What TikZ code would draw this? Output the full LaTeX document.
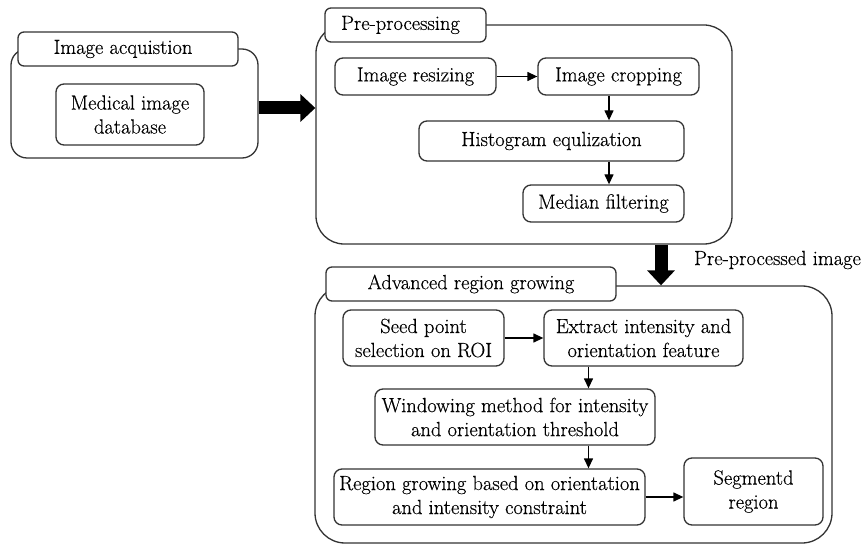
\documentclass[tikz,border=0pt]{standalone}
\usepackage{fontspec}
\newfontfamily\diafont{Latin Modern Roman}[FakeBold=0.4]
\usetikzlibrary{arrows.meta,calc}
\begin{document}
\begin{tikzpicture}[x=1pt,y=-1pt,
  every node/.style={font=\diafont\fontsize{20.5}{24}\selectfont, align=center, inner sep=0pt},
  lc/.style={draw=black!80, line width=1.3pt},
  outerbox/.style={lc, rounded corners=28pt},
  tabbox/.style={lc, fill=white, rounded corners=6pt},
  stepbox/.style={lc, fill=white, rounded corners=8pt},
  arr/.style={line width=1.3pt, draw=black, -{Triangle[length=10pt,width=9pt]}},
  bigarr/.style={line width=13pt, draw=black, -{Triangle[length=15pt,width=27pt]}}
]
\useasboundingbox (0,0) rectangle (865,545);
\fill[white] (0,0) rectangle (865,545);

% Image acquisition
\node[outerbox, rounded corners=16pt, minimum width=247pt, minimum height=109pt] (acq) at (134.5,103.5) {};
\node[tabbox, minimum width=220pt, minimum height=34pt] (acqtab) at (128,49) {Image acquistion\hspace*{10pt}};
\node[stepbox, minimum width=148pt, minimum height=61pt] (db) at (130,114.5) {Medical image\\database};

% Pre-processing
\node[outerbox, minimum width=416pt, minimum height=219pt] (pre) at (524,134.5) {};
\node[tabbox, minimum width=161pt, minimum height=34pt] (pretab) at (405.5,25) {Pre-processing\hspace*{10pt}};
\node[stepbox, minimum width=161pt, minimum height=37pt] (resize) at (415.5,76.5) {Image resizing};
\node[stepbox, minimum width=161pt, minimum height=37pt] (crop) at (618.5,76.5) {Image cropping};
\node[stepbox, minimum width=265pt, minimum height=40pt] (hist) at (551.5,141) {Histogram equlization};
\node[stepbox, minimum width=161pt, minimum height=37pt] (median) at (603.5,203.5) {Median filtering};

% Advanced region growing
\node[outerbox, rounded corners=30pt, minimum width=517pt, minimum height=257pt] (adv) at (573.5,414.5) {};
\node[tabbox, minimum width=290pt, minimum height=34pt] (advtab) at (471,284) {Advanced region growing};
\node[stepbox, minimum width=161pt, minimum height=56pt] (seed) at (423.5,338) {Seed point\\selection on ROI};
\node[stepbox, minimum width=199pt, minimum height=56pt] (extract) at (643.5,338) {Extract intensity and\\orientation feature};
\node[stepbox, minimum width=280pt, minimum height=56pt] (window) at (515,417) {Windowing method for intensity\\and orientation threshold};
\node[stepbox, minimum width=311pt, minimum height=56pt] (region) at (489.5,497) {Region growing based on orientation\\and intensity constraint};
\node[stepbox, minimum width=139pt, minimum height=67pt] (seg) at (753.5,491.5) {Segmentd\\region};

\node (lbl) at (777.5,260) {Pre-processed image};

% thick arrows
\draw[bigarr] ([yshift=-4.5pt]acq.east) -- ([yshift=-4.5pt]acq.east -| pre.west);
\draw[bigarr] ([xshift=137pt]pre.south) -- ([xshift=137pt]pre.south |- adv.north);

% thin arrows
\draw[arr] (resize.east) -- (crop.west);
\draw[arr] ([xshift=-9.5pt]crop.south) -- ([xshift=-9.5pt]crop.south |- hist.north);
\draw[arr] ([xshift=-9.5pt]crop.south |- hist.south) -- ([xshift=-9.5pt]crop.south |- median.north);
\draw[arr] (seed.east) -- (extract.west);
\draw[arr] ([xshift=-55pt]extract.south) -- ([xshift=-55pt]extract.south |- window.north);
\draw[arr] ([xshift=-55pt]extract.south |- window.south) -- ([xshift=-55pt]extract.south |- region.north);
\draw[arr] (region.east) -- (region.east -| seg.west);
\end{tikzpicture}
\end{document}
